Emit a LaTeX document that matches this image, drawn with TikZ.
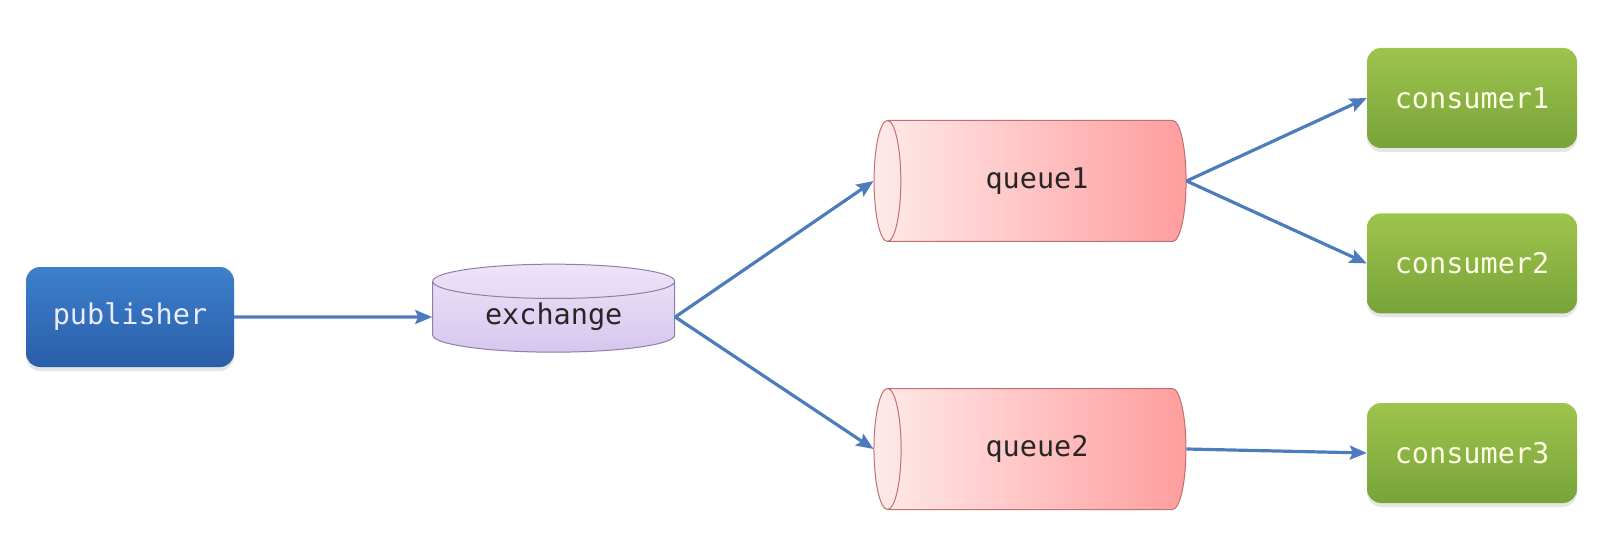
\documentclass[tikz,border=0pt]{standalone}
\usepackage{fontspec}
\setmonofont{DejaVu Sans Mono}
\usepackage{xcolor}
\usetikzlibrary{shapes.geometric,arrows.meta,positioning,shadows}
\definecolor{pubtop}{RGB}{61,128,204}
\definecolor{pubbot}{RGB}{42,94,168}
\definecolor{constop}{RGB}{157,196,76}
\definecolor{consbot}{RGB}{120,163,58}
\definecolor{exchtop}{RGB}{238,228,249}
\definecolor{exchbot}{RGB}{214,198,238}
\definecolor{exchline}{RGB}{143,127,168}
\definecolor{qleft}{RGB}{255,234,234}
\definecolor{qright}{RGB}{255,157,157}
\definecolor{qline}{RGB}{192,112,111}
\definecolor{arrowblue}{RGB}{77,124,189}

\begin{document}
\begin{tikzpicture}[x=1pt, y=-1pt, node distance=2cm,
    box/.style={rectangle, rounded corners=14pt, minimum width=208pt,
                minimum height=100pt, inner sep=0pt,
                font=\fontsize{28.5}{34}\selectfont\ttfamily,
                drop shadow={shadow xshift=0pt, shadow yshift=-4pt, opacity=0.2}},
    pub/.style={box, top color=pubtop, bottom color=pubbot, text=white!92!blue},
    cons/.style={box, minimum width=210pt, top color=constop, bottom color=consbot,
                 text=white!90!yellow},
    queue/.style={cylinder, shape border rotate=180, aspect=1, draw=qline,
                  line width=1pt, left color=qleft, right color=qright,
                  minimum width=121pt, minimum height=312pt, inner sep=0pt,
                  text=black!85, font=\fontsize{28.5}{34}\selectfont\ttfamily},
    exch/.style={cylinder, shape border rotate=90, aspect=0.25, draw=exchline,
                 line width=1pt, top color=exchtop, bottom color=exchbot,
                 minimum width=242pt, minimum height=88pt, inner sep=0pt,
                 text=black!85, font=\fontsize{28.5}{34}\selectfont\ttfamily},
    arrow/.style={line width=3.2pt, draw=arrowblue,
                  -{Stealth[length=17pt, width=14pt, inset=3pt]}}]

\useasboundingbox (0,0) rectangle (1605,545);

% producer side
\node[pub] (publisher) at (130,317) {publisher};
\node[exch, right=198pt of publisher] (exchange) {exchange};

% queues
\node[queue] (queue1) at (1037,181) {queue1};
\node[queue] (queue2) at (1037,449) {queue2};

% consumers
\node[cons] (consumer1) at (1472,98) {consumer1};
\node[cons, below=65pt of consumer1] (consumer2) {consumer2};
\node[cons] (consumer3) at (1472,453) {consumer3};

\draw[arrow] (publisher) -- (exchange);
\draw[arrow] (exchange.east) -- (queue1.west);
\draw[arrow] (exchange.east) -- (queue2.west);
\draw[arrow] (queue1.east) -- (consumer1.west);
\draw[arrow] (queue1.east) -- (consumer2.west);
\draw[arrow] (queue2.east) -- (consumer3.west);

\end{tikzpicture}
\end{document}
